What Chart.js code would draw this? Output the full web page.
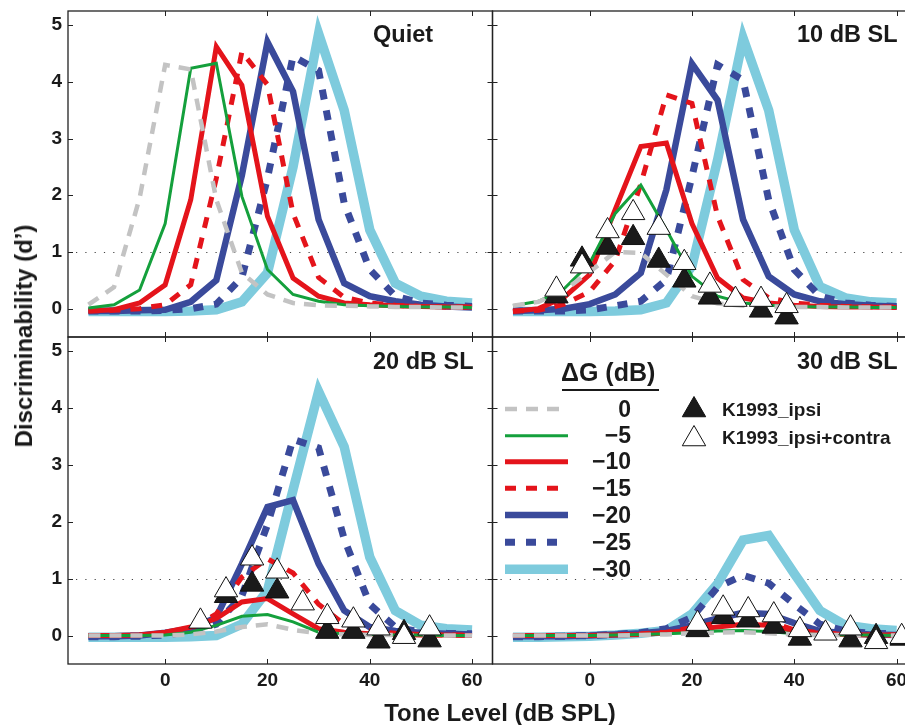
<!DOCTYPE html>
<html>
<head>
<meta charset="utf-8">
<script src="https://cdn.jsdelivr.net/npm/chart.js@4.4.1/dist/chart.umd.min.js"></script>
<style>
    html, body { margin: 0; padding: 0; background: #fff; width: 905px; height: 725px; overflow: hidden; }
    body { position: relative; font-family: 'Liberation Sans', Arial, Helvetica, sans-serif; color: #1a1a1a; }
    canvas { position: absolute; left: 0; top: 0; }
    .lbl { position: absolute; font-weight: bold; white-space: nowrap; line-height: 1; }
</style>
</head>
<body>
<canvas id="quiet-chart" width="920" height="725"></canvas>
<canvas id="sl10-chart" width="920" height="725"></canvas>
<canvas id="sl20-chart" width="920" height="725"></canvas>
<canvas id="sl30-chart" width="920" height="725"></canvas>

<div class="lbl" style="left:373px; top:23px; font-size:23.5px;">Quiet</div>
<div class="lbl" style="left:797px; top:23px; font-size:23.5px;">10 dB SL</div>
<div class="lbl" style="left:373px; top:350px; font-size:23.5px;">20 dB SL</div>
<div class="lbl" style="left:797px; top:350px; font-size:23.5px;">30 dB SL</div>

<div class="lbl" style="left:24px; top:336px; font-size:24px; transform: translate(-50%, -50%) rotate(-90deg);">Discriminability (d’)</div>
<div class="lbl" style="left:500px; top:701px; font-size:24px; transform: translateX(-50%);">Tone Level (dB SPL)</div>

<div class="lbl" style="left:561px; top:360px; font-size:25px;">ΔG (dB)</div>
<div style="position:absolute; left:562px; top:389px; width:97px; height:2px; background:#1a1a1a;"></div>
<div id="gain-labels"></div>
<div class="lbl" style="left:722px; top:400px; font-size:19px;">K1993_ipsi</div>
<div class="lbl" style="left:722px; top:428px; font-size:19px;">K1993_ipsi+contra</div>

<script>
// tone levels of the model curves (dB SPL)
const levels = [-15, -10, -5, 0, 5, 10, 15, 20, 25, 30, 35, 40, 45, 50, 55, 60];
const gains = [0, -5, -10, -15, -20, -25, -30];
const xTicks = [0, 20, 40, 60];
const yTicks = [0, 1, 2, 3, 4, 5];

// d' per gain, in the order of gains
const quietCurves = [
    [0.07, 0.38, 1.95, 4.3, 4.22, 1.92, 0.63, 0.25, 0.1, 0.06, 0.05, 0.04, 0.03, 0.03, 0.02, 0.02],
    [0.01, 0.07, 0.33, 1.5, 4.24, 4.33, 1.98, 0.69, 0.25, 0.13, 0.07, 0.05, 0.04, 0.03, 0.03, 0.02],
    [-0.04, -0.02, 0.1, 0.42, 1.92, 4.62, 3.94, 1.63, 0.54, 0.22, 0.1, 0.07, 0.05, 0.04, 0.03, 0.03],
    [-0.04, -0.03, 0.0, 0.07, 0.42, 2.3, 4.53, 3.95, 1.68, 0.55, 0.2, 0.1, 0.06, 0.04, 0.03, 0.03],
    [-0.04, -0.04, -0.03, -0.02, 0.12, 0.5, 2.35, 4.7, 3.83, 1.57, 0.45, 0.22, 0.13, 0.07, 0.04, 0.02],
    [-0.04, -0.04, -0.04, -0.03, 0.0, 0.08, 0.55, 2.3, 4.45, 4.2, 1.86, 0.69, 0.22, 0.1, 0.06, 0.04],
    [-0.05, -0.05, -0.05, -0.05, -0.04, -0.02, 0.12, 0.63, 2.5, 4.85, 3.5, 1.39, 0.45, 0.22, 0.13, 0.1],
];

const sl10Curves = [
    [0.05, 0.12, 0.32, 0.65, 1.0, 0.98, 0.6, 0.22, 0.09, 0.05, 0.04, 0.03, 0.03, 0.02, 0.02, 0.02],
    [0.05, 0.13, 0.35, 0.8, 1.68, 2.18, 1.39, 0.57, 0.22, 0.1, 0.06, 0.04, 0.03, 0.03, 0.02, 0.02],
    [-0.05, 0.0, 0.2, 0.6, 1.75, 2.86, 2.92, 1.5, 0.54, 0.19, 0.1, 0.06, 0.04, 0.03, 0.03, 0.02],
    [-0.04, -0.03, 0.08, 0.3, 0.85, 2.2, 3.77, 3.62, 1.63, 0.51, 0.19, 0.1, 0.06, 0.04, 0.03, 0.03],
    [-0.04, -0.03, 0.0, 0.08, 0.25, 0.63, 2.1, 4.32, 3.68, 1.57, 0.57, 0.25, 0.13, 0.08, 0.05, 0.04],
    [-0.04, -0.04, -0.04, -0.02, 0.05, 0.13, 0.51, 2.33, 4.3, 4.03, 1.92, 0.69, 0.22, 0.1, 0.06, 0.04],
    [-0.05, -0.05, -0.05, -0.05, -0.04, -0.02, 0.1, 0.75, 2.62, 4.77, 3.5, 1.39, 0.39, 0.19, 0.12, 0.1],
];

const sl20Curves = [
    [0.0, 0.0, 0.0, 0.0, 0.02, 0.07, 0.15, 0.2, 0.1, 0.04, 0.02, 0.01, 0.01, 0.0, 0.0, 0.0],
    [0.0, 0.0, 0.0, 0.01, 0.06, 0.18, 0.34, 0.37, 0.24, 0.06, 0.03, 0.02, 0.01, 0.01, 0.0, 0.0],
    [0.0, 0.0, 0.01, 0.06, 0.15, 0.3, 0.59, 0.65, 0.38, 0.12, 0.06, 0.03, 0.02, 0.01, 0.01, 0.0],
    [0.0, 0.0, 0.01, 0.04, 0.12, 0.38, 1.03, 1.35, 1.1, 0.55, 0.2, 0.08, 0.04, 0.02, 0.01, 0.01],
    [-0.01, -0.01, 0.0, 0.05, 0.12, 0.32, 1.26, 2.26, 2.38, 1.26, 0.44, 0.15, 0.08, 0.05, 0.03, 0.02],
    [-0.02, -0.02, -0.01, 0.01, 0.07, 0.2, 0.7, 1.95, 3.45, 3.3, 1.7, 0.55, 0.15, 0.06, 0.04, 0.03],
    [-0.03, -0.03, -0.03, -0.03, -0.02, 0.0, 0.2, 0.79, 2.56, 4.29, 3.32, 1.38, 0.44, 0.18, 0.12, 0.1],
];

const sl30Curves = [
    [0.0, 0.0, 0.0, 0.0, 0.0, 0.01, 0.02, 0.04, 0.05, 0.06, 0.04, 0.02, 0.01, 0.01, 0.0, 0.0],
    [0.0, 0.0, 0.0, 0.0, 0.01, 0.02, 0.03, 0.05, 0.08, 0.09, 0.07, 0.03, 0.02, 0.01, 0.01, 0.0],
    [0.0, 0.0, 0.0, 0.0, 0.01, 0.02, 0.05, 0.1, 0.15, 0.2, 0.18, 0.08, 0.04, 0.02, 0.01, 0.01],
    [0.0, 0.0, 0.0, 0.0, 0.01, 0.03, 0.06, 0.14, 0.22, 0.3, 0.25, 0.1, 0.05, 0.02, 0.01, 0.01],
    [-0.01, -0.01, -0.01, 0.0, 0.02, 0.04, 0.08, 0.18, 0.3, 0.4, 0.38, 0.22, 0.08, 0.04, 0.02, 0.01],
    [-0.02, -0.02, -0.01, 0.0, 0.02, 0.05, 0.12, 0.32, 0.85, 1.06, 0.92, 0.55, 0.2, 0.08, 0.04, 0.03],
    [-0.03, -0.03, -0.02, -0.01, 0.01, 0.04, 0.09, 0.38, 0.91, 1.68, 1.76, 1.09, 0.44, 0.18, 0.12, 0.09],
];

// K1993 data (filled = ipsi, open = ipsi+contra)
const sl10IpsiLevels = [-6.5, -1.5, 3.5, 8.5, 13.5, 18.5, 23.5, 33.5, 38.5];
const sl10IpsiValues = [0.22, 0.87, 1.08, 1.25, 0.85, 0.5, 0.2, -0.03, -0.15];
const sl10ContraLevels = [-6.5, -1.5, 3.5, 8.5, 13.5, 18.5, 23.5, 28.5, 33.5, 38.5];
const sl10ContraValues = [0.34, 0.75, 1.37, 1.69, 1.43, 0.81, 0.41, 0.16, 0.16, 0.05];

const sl20IpsiLevels = [11.9, 17, 21.9, 31.7, 36.8, 41.7, 46.7, 51.7];
const sl20IpsiValues = [0.7, 0.9, 0.78, 0.07, 0.07, -0.1, 0.05, -0.08];
const sl20ContraLevels = [6.9, 11.9, 17, 21.9, 26.9, 31.7, 36.8, 41.7, 46.7, 51.7];
const sl20ContraValues = [0.25, 0.8, 1.36, 1.13, 0.57, 0.33, 0.27, 0.13, -0.02, 0.13];

const sl30IpsiLevels = [21.1, 26.1, 31, 36, 41.1, 51, 56, 61];
const sl30IpsiValues = [0.1, 0.33, 0.27, 0.16, -0.05, -0.08, -0.02, -0.05];
const sl30ContraLevels = [21.1, 26.1, 31, 36, 41.1, 46.1, 51, 56, 61];
const sl30ContraValues = [0.21, 0.48, 0.45, 0.36, 0.1, 0.04, 0.13, -0.11, -0.02];

// ---- styles / layout ----
const curveStyles = [
    { color: '#c3c3c3', width: 4.5, dash: [12, 9] },
    { color: '#14a03c', width: 3, dash: [] },
    { color: '#e4141b', width: 5, dash: [] },
    { color: '#e4141b', width: 5, dash: [11, 10] },
    { color: '#3a4a9b', width: 6.5, dash: [] },
    { color: '#3a4a9b', width: 7, dash: [10, 11] },
    { color: '#7ecbdd', width: 9.5, dash: [] },
];

const ink = '#1a1a1a';
const tickFont = { family: "'Liberation Sans', Arial, sans-serif", size: 19, weight: 'bold' };
const legendRows = [409, 435.7, 461.7, 488.3, 515, 542.3, 569.3];
const markerRadius = 13.5;

const gainLabelBox = document.getElementById('gain-labels');
gains.forEach((g, i) => {
    const el = document.createElement('div');
    el.className = 'lbl';
    el.style.cssText = `right:274px; top:${legendRows[i] - 11.5}px; font-size:23px;`;
    el.textContent = g === 0 ? '0' : `−${Math.abs(g)}`;
    gainLabelBox.appendChild(el);
});

const drawBox = (chart) => {
    const { ctx, chartArea: a, scales: { x, y } } = chart;
    ctx.save();
    ctx.strokeStyle = '#222';
    ctx.lineWidth = 1.3;
    ctx.strokeRect(a.left, a.top, a.right - a.left, a.bottom - a.top);
    ctx.lineWidth = 1;
    ctx.beginPath();
    xTicks.forEach((v) => {
        const px = Math.round(x.getPixelForValue(v)) + 0.5;
        ctx.moveTo(px, a.bottom); ctx.lineTo(px, a.bottom - 5);
        ctx.moveTo(px, a.top); ctx.lineTo(px, a.top + 5);
    });
    yTicks.forEach((v) => {
        const py = Math.round(y.getPixelForValue(v)) + 0.5;
        ctx.moveTo(a.left, py); ctx.lineTo(a.left + 5, py);
        ctx.moveTo(a.right, py); ctx.lineTo(a.right - 5, py);
    });
    ctx.stroke();
    ctx.restore();
};

const boxPlugin = {
    id: 'matlabBox',
    beforeDatasetsDraw(chart) {
        const { ctx, chartArea: a, scales: { y } } = chart;
        const py = Math.round(y.getPixelForValue(1)) + 0.5;
        ctx.save();
        ctx.strokeStyle = '#444';
        ctx.lineWidth = 1.2;
        ctx.setLineDash([1.2, 8.1]);
        ctx.beginPath();
        ctx.moveTo(a.left + 8, py);
        ctx.lineTo(a.right, py);
        ctx.stroke();
        ctx.restore();
    },
    afterDatasetsDraw(chart) {
        drawBox(chart);
    },
};

const legendPlugin = {
    id: 'gainLegend',
    afterDraw(chart) {
        const { ctx } = chart;
        const tri = { pointStyle: 'triangle', radius: markerRadius, rotation: 0, borderWidth: 1 };
        ctx.save();
        curveStyles.forEach((s, i) => {
            ctx.strokeStyle = s.color;
            ctx.lineWidth = s.width;
            ctx.setLineDash(s.dash);
            ctx.beginPath();
            ctx.moveTo(505, legendRows[i]);
            ctx.lineTo(568, legendRows[i]);
            ctx.stroke();
        });
        ctx.setLineDash([]);
        ctx.lineWidth = 1;
        ctx.strokeStyle = '#111';
        ctx.fillStyle = '#1a1a1a';
        Chart.helpers.drawPoint(ctx, tri, 694, 410);
        ctx.fillStyle = '#fff';
        Chart.helpers.drawPoint(ctx, tri, 694, 439);
        ctx.restore();
    },
};

const toPoints = (xs, ys) => xs.map((x, i) => ({ x, y: ys[i] }));

const markerSet = (xs, ys, fill) => ({
    data: toPoints(xs, ys),
    showLine: false,
    pointStyle: 'triangle',
    pointRadius: markerRadius,
    pointBackgroundColor: fill,
    pointBorderColor: '#111',
    pointBorderWidth: 1,
});

const createPanel = (id, area, curves, markers, withXLabels, withYLabels, extraPlugins = []) => {
    const canvas = document.getElementById(id);
    const W = canvas.width;
    const H = canvas.height;
    const yAxisWidth = withYLabels ? area.left : 0;
    const xAxisHeight = withXLabels ? 30 : 0;

    const datasets = [];
    if (markers) {
        datasets.push(markerSet(markers.contraX, markers.contraY, '#ffffff'));
        datasets.push(markerSet(markers.ipsiX, markers.ipsiY, '#1a1a1a'));
    }
    curves.forEach((values, i) => {
        const s = curveStyles[i];
        datasets.push({
            label: `${gains[i]}`,
            data: toPoints(levels, values),
            borderColor: s.color,
            borderWidth: s.width,
            borderDash: s.dash,
            pointRadius: 0,
            tension: 0,
            fill: false,
        });
    });

    return new Chart(canvas, {
        type: 'line',
        data: { datasets },
        options: {
            responsive: false,
            animation: false,
            devicePixelRatio: 1,
            events: [],
            layout: {
                autoPadding: false,
                padding: {
                    left: area.left - yAxisWidth,
                    top: area.top,
                    right: W - area.right,
                    bottom: H - area.bottom - xAxisHeight,
                },
            },
            plugins: { legend: { display: false }, tooltip: { enabled: false } },
            scales: {
                x: {
                    type: 'linear',
                    min: -19,
                    max: 64,
                    display: withXLabels,
                    grid: { display: false, drawTicks: false },
                    border: { display: false },
                    ticks: { font: tickFont, color: ink, padding: 5, maxRotation: 0, autoSkip: false },
                    afterBuildTicks: (axis) => { axis.ticks = xTicks.map((v) => ({ value: v })); },
                    afterFit: (axis) => {
                        axis.height = xAxisHeight;
                        axis.paddingLeft = 0;
                        axis.paddingRight = 0;
                    },
                },
                y: {
                    type: 'linear',
                    min: -0.5,
                    max: 5.25,
                    display: withYLabels,
                    grid: { display: false, drawTicks: false },
                    border: { display: false },
                    ticks: { font: tickFont, color: ink, padding: 6 },
                    afterBuildTicks: (axis) => { axis.ticks = yTicks.map((v) => ({ value: v })); },
                    afterFit: (axis) => {
                        axis.width = yAxisWidth;
                        axis.paddingTop = 0;
                        axis.paddingBottom = 0;
                    },
                },
            },
        },
        plugins: [boxPlugin, ...extraPlugins],
    });
};

createPanel('quiet-chart', { left: 68, top: 11, right: 492.5, bottom: 337 }, quietCurves, null, false, true);
createPanel('sl10-chart', { left: 492.5, top: 11, right: 917, bottom: 337 }, sl10Curves, {
    ipsiX: sl10IpsiLevels, ipsiY: sl10IpsiValues, contraX: sl10ContraLevels, contraY: sl10ContraValues,
}, false, false);
createPanel('sl20-chart', { left: 68, top: 337, right: 492.5, bottom: 664 }, sl20Curves, {
    ipsiX: sl20IpsiLevels, ipsiY: sl20IpsiValues, contraX: sl20ContraLevels, contraY: sl20ContraValues,
}, true, true);
createPanel('sl30-chart', { left: 492.5, top: 337, right: 917, bottom: 664 }, sl30Curves, {
    ipsiX: sl30IpsiLevels, ipsiY: sl30IpsiValues, contraX: sl30ContraLevels, contraY: sl30ContraValues,
}, true, false, [legendPlugin]);
</script>
</body>
</html>
